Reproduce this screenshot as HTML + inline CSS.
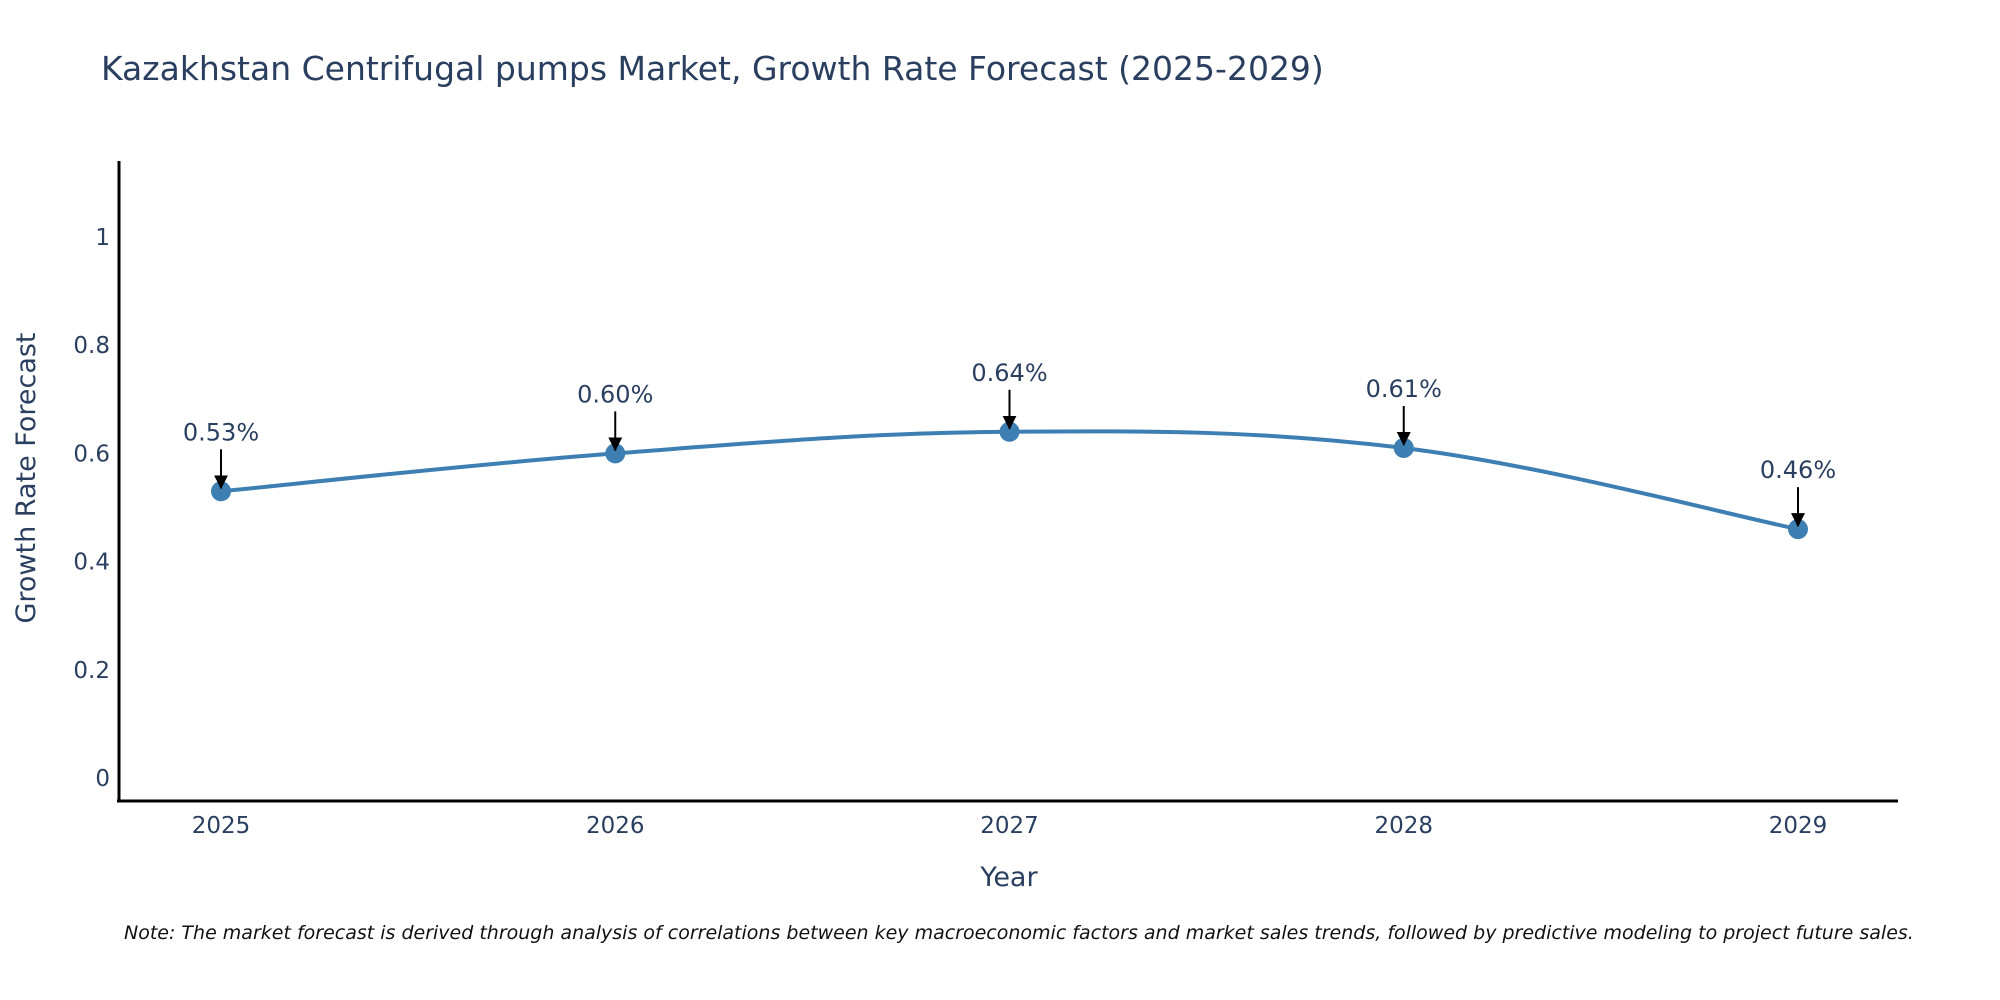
<!DOCTYPE html>
<html><head><meta charset="utf-8"><style>
html,body{margin:0;padding:0;background:#fff;}
svg{display:block;font-family:"DejaVu Sans","Liberation Sans",sans-serif;}
</style></head><body>
<svg id="chart" width="2000" height="1000" viewBox="0 0 2000 1000" xmlns="http://www.w3.org/2000/svg">
<defs><marker id="ah" markerWidth="14" markerHeight="14" refX="13" refY="7" orient="auto" markerUnits="userSpaceOnUse" viewBox="0 0 14 14"><path d="M0,0 L14,7 L0,14 Z" fill="#000"/></marker></defs>
<text x="101" y="80" font-size="33" fill="#2a3f5f">Kazakhstan Centrifugal pumps Market, Growth Rate Forecast (2025-2029)</text>
<g id="yticks"></g><g id="xticks"></g>
<line x1="119" y1="161" x2="119" y2="802" stroke="#000" stroke-width="3"/>
<line x1="117" y1="801" x2="1898" y2="801" stroke="#000" stroke-width="3"/>
<path id="series-line" fill="none" stroke="#3d7fb3" stroke-width="4"/>
<g id="marks"></g>
<text x="1009" y="886" font-size="27" fill="#2a3f5f" text-anchor="middle">Year</text>
<text transform="translate(35,478) rotate(-90)" font-size="27" fill="#2a3f5f" text-anchor="middle">Growth Rate Forecast</text>
<text x="124" y="939" font-size="19" font-style="italic" fill="#111">Note: The market forecast is derived through analysis of correlations between key macroeconomic factors and market sales trends, followed by predictive modeling to project future sales.</text>
</svg>
<script>
const years = ["2025","2026","2027","2028","2029"];
const values = [0.53, 0.60, 0.64, 0.61, 0.46];
const labels = ["0.53%","0.60%","0.64%","0.61%","0.46%"];
const yTicks = [0, 0.2, 0.4, 0.6, 0.8, 1];
const yTickLabels = ["0","0.2","0.4","0.6","0.8","1"];

const NS = "http://www.w3.org/2000/svg";
function xPos(i){ return 221 + i * 394.25; }
function yPos(v){ return 778 - v * 541; }
function mk(tag, attrs, parent, text){
  const e = document.createElementNS(NS, tag);
  for (const k in attrs) e.setAttribute(k, attrs[k]);
  if (text !== undefined) e.textContent = text;
  parent.appendChild(e); return e;
}
const yt = document.getElementById('yticks');
yTicks.forEach((t, i) => {
  const e = mk('text', {x: 110, y: yPos(t) + 8, 'font-size': 23, fill: '#2a3f5f', 'text-anchor': 'end'}, yt, yTickLabels[i]);
  
  
});
const xt = document.getElementById('xticks');
years.forEach((y, i) => {
  const e = mk('text', {x: xPos(i), y: 833, 'font-size': 23, fill: '#2a3f5f', 'text-anchor': 'middle'}, xt, y);
  
  
});
const pts = values.map((v, i) => [xPos(i), yPos(v)]);
let d = `M${pts[0][0]},${pts[0][1]}`;
const s = 0.18;
for (let i = 0; i < pts.length - 1; i++) {
  const p0 = pts[Math.max(0, i - 1)], p1 = pts[i], p2 = pts[i + 1], p3 = pts[Math.min(pts.length - 1, i + 2)];
  const c1 = [p1[0] + (p2[0] - p0[0]) * s, p1[1] + (p2[1] - p0[1]) * s];
  const c2 = [p2[0] - (p3[0] - p1[0]) * s, p2[1] - (p3[1] - p1[1]) * s];
  d += ` C${c1[0]},${c1[1]} ${c2[0]},${c2[1]} ${p2[0]},${p2[1]}`;
}
document.getElementById('series-line').setAttribute('d', d);
const marks = document.getElementById('marks');
pts.forEach((p, i) => {
  const c = mk('circle', {cx: p[0], cy: p[1], r: 10, fill: '#3d7fb3'}, marks);
  
  
  const a = mk('line', {x1: p[0], y1: p[1] - 42, x2: p[0], y2: p[1] - 3, stroke: '#000', 'stroke-width': 2, 'marker-end': 'url(#ah)'}, marks);
  
  
  const t = mk('text', {x: p[0], y: p[1] - 51, 'font-size': 24, fill: '#2a3f5f', 'text-anchor': 'middle'}, marks, labels[i]);
  
  
});
</script>
</body></html>
